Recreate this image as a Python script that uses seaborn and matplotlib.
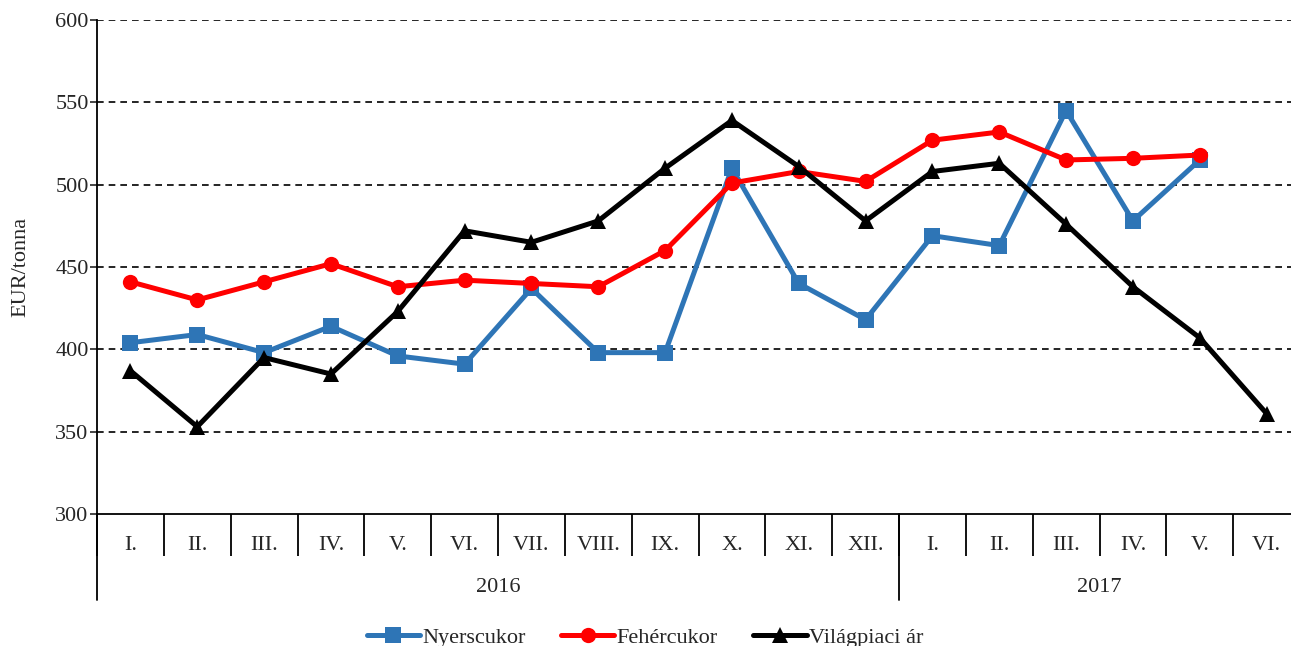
import numpy as np
import pandas as pd
import matplotlib
matplotlib.use("Agg")
import matplotlib.pyplot as plt
import matplotlib.transforms as mtrans
import seaborn as sns

months = ['I.', 'II.', 'III.', 'IV.', 'V.', 'VI.', 'VII.', 'VIII.', 'IX.', 'X.', 'XI.', 'XII.',
          'I.', 'II.', 'III.', 'IV.', 'V.', 'VI.']
years = ['2016', '2017']
year_len = [12, 6]

nyers = [404, 409, 398, 414, 396, 391, 437, 398, 398, 510, 440, 418,
         469, 463, 545, 478, 515, np.nan]
feher = [441, 430, 441, 452, 438, 442, 440, 438, 460, 501, 508, 502,
         527, 532, 515, 516, 518, np.nan]
vilag = [387, 353, 395, 385, 423, 472, 465, 478, 510, 539, 511, 478,
         508, 513, 476, 438, 407, 361]

series = ['Nyerscukor', 'Fehércukor', 'Világpiaci ár']
colors = ['#2E75B6', '#FF0000', '#000000']
markers = ['s', 'o', '^']

df = pd.concat([
    pd.DataFrame({'idx': range(len(months)), 'value': vals, 'series': name})
    for name, vals in zip(series, [nyers, feher, vilag])
], ignore_index=True)

sns.set_style('white')
plt.rcParams['font.family'] = ['Liberation Serif', 'DejaVu Serif']
fs = 16

fig = plt.figure(figsize=(12.91, 6.46), dpi=100)
ax = fig.add_axes([97 / 1291, 1 - 514 / 646, 1203 / 1291, 494 / 646])

sns.lineplot(data=df, x='idx', y='value', hue='series', style='series',
             palette=dict(zip(series, colors)), markers=dict(zip(series, markers)),
             dashes=False, linewidth=3.6, markersize=11, markeredgewidth=0,
             legend=False, ax=ax)

n = len(months)
ax.set_xlim(-0.5, n - 0.5)
ax.set_ylim(300, 600)
ax.set_yticks(range(300, 601, 50))
ax.tick_params(axis='y', labelsize=fs, length=5, width=1.2, direction='out', left=True, pad=1)
for y in range(350, 601, 50):
    ax.axhline(y, color='black', linestyle=(0, (4, 3)), linewidth=1.2, zorder=0)

ax.set_ylabel('EUR/tonna', fontsize=fs, labelpad=18)
ax.set_xlabel('')
for s in ['top', 'right']:
    ax.spines[s].set_visible(False)
for s in ['left', 'bottom']:
    ax.spines[s].set_color('black')
    ax.spines[s].set_linewidth(1.3)

# category separators and labels
ax.set_xticks([])
ax.set_xticks(np.arange(-0.5, n, 1), minor=True)
ax.tick_params(axis='x', which='minor', length=30, width=1.3, direction='out', bottom=True,
               labelbottom=False, color='black')
trans = mtrans.blended_transform_factory(ax.transData, fig.transFigure)
for i, m in enumerate(months):
    ax.text(i, 1 - 546 / 646, m, transform=trans, ha='center', va='center', fontsize=fs)

start = 0
for yname, ln in zip(years, year_len):
    ax.plot([start - 0.5, start - 0.5], [1 - 514 / 646, 1 - 600 / 646], transform=trans,
            color='black', linewidth=1.3, clip_on=False)
    ax.text(start + (ln - 1) / 2, 1 - 587 / 646, yname, transform=trans,
            ha='center', va='center', fontsize=fs)
    start += ln

handles = [plt.Line2D([], [], color=c, marker=mk, linewidth=3.6, markersize=11, markeredgewidth=0)
           for c, mk in zip(colors, markers)]
fig.legend(handles, series, loc='center', bbox_to_anchor=(645 / 1291, 1 - 638 / 646),
           ncol=3, frameon=False, fontsize=fs, handlelength=2.4, columnspacing=1.6,
           handletextpad=0.1)

fig.savefig('out.png', dpi=100)
